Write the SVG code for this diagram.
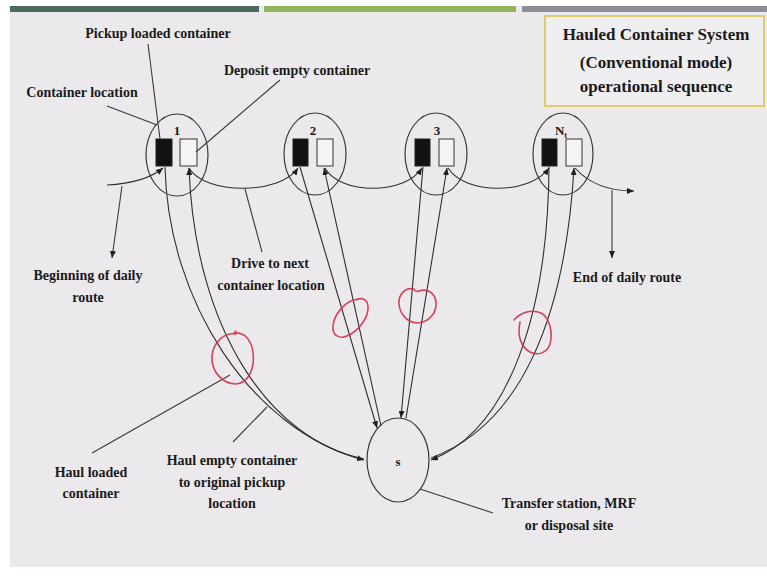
<svg xmlns="http://www.w3.org/2000/svg" width="767" height="577" viewBox="0 0 767 577">
  <style>
    .lbl { font-family: "Liberation Serif", "Times New Roman", serif; font-weight: bold; font-size: 14px; fill: #1a1a1a; text-anchor: middle; }
    .ttl { font-family: "Liberation Serif", "Times New Roman", serif; font-weight: bold; font-size: 17px; fill: #1a1a1a; text-anchor: middle; }
    .num { font-family: "Liberation Serif", "Times New Roman", serif; font-weight: bold; font-size: 13px; fill: #1a1a1a; text-anchor: middle; }
    .ring { fill: none; stroke: #3a3a3a; stroke-width: 1.2; }
    .full { fill: #111; stroke: #222; stroke-width: 1; }
    .empty { fill: #f4f3f5; stroke: #333; stroke-width: 1; }
    .edge { fill: none; stroke: #2e2e2e; stroke-width: 1.1; }
    .lead { fill: none; stroke: #3a3a3a; stroke-width: 1.1; }
    .mark { fill: none; stroke: #d0324a; stroke-width: 1.6; stroke-linecap: round; stroke-linejoin: round; opacity: 0.9; }
  </style>
  <defs>
    <marker id="arr" markerUnits="userSpaceOnUse" markerWidth="7" markerHeight="6" refX="7" refY="3" orient="auto">
      <path d="M0,0 L7,3 L0,6 z" fill="#1e1e1e"/>
    </marker>
  </defs>

  <!-- slide background and header bars -->
  <rect x="0" y="0" width="767" height="577" fill="#ffffff"/>
  <rect x="10" y="6" width="757" height="561" fill="#ebe9ec"/>
  <rect x="10" y="6" width="249" height="6" fill="#4a6b57"/>
  <rect x="264" y="6" width="252" height="6" fill="#8fb55a"/>
  <rect x="522" y="6" width="245" height="6" fill="#8e8e96"/>

  <!-- title box -->
  <g id="title">
    <rect x="545" y="16" width="219" height="90" fill="#efeef0" stroke="#e2cc6a" stroke-width="2"/>
    <text class="ttl" x="656" y="40">Hauled Container System</text>
    <text class="ttl" x="656" y="68">(Conventional mode)</text>
    <text class="ttl" x="656" y="92">operational sequence</text>
  </g>

  <!-- container locations -->
  <g id="loc1">
    <ellipse class="ring" cx="177" cy="155" rx="31" ry="41"/>
    <rect class="full" x="156" y="139" width="16" height="27"/>
    <rect class="empty" x="180" y="139" width="17" height="27"/>
    <text class="num" x="177" y="135">1</text>
  </g>
  <g id="loc2">
    <ellipse class="ring" cx="315" cy="154" rx="31" ry="41"/>
    <rect class="full" x="293" y="139" width="15" height="27"/>
    <rect class="empty" x="317" y="139" width="16" height="27"/>
    <text class="num" x="313" y="135">2</text>
  </g>
  <g id="loc3">
    <ellipse class="ring" cx="436" cy="154" rx="31" ry="41"/>
    <rect class="full" x="415" y="139" width="15" height="27"/>
    <rect class="empty" x="439" y="139" width="15" height="27"/>
    <text class="num" x="437" y="135">3</text>
  </g>
  <g id="locN">
    <ellipse class="ring" cx="563" cy="154" rx="30" ry="41"/>
    <rect class="full" x="542" y="139" width="15" height="27"/>
    <rect class="empty" x="566" y="139" width="16" height="27"/>
    <text class="num" x="561" y="135">N<tspan font-size="8" dy="3">t</tspan></text>
  </g>

  <!-- disposal site -->
  <g id="site">
    <ellipse class="ring" cx="398" cy="460" rx="31" ry="42"/>
    <text class="num" x="398" y="466">s</text>
  </g>

  <!-- route and haul connectors -->
  <g id="connectors">
    <path class="edge" d="M107,185 Q145,183 163,168" marker-end="url(#arr)"/>
    <path class="edge" d="M189,168 C205,195 280,195 298,168" marker-end="url(#arr)"/>
    <path class="edge" d="M325,168 C340,195 405,195 422,168" marker-end="url(#arr)"/>
    <path class="edge" d="M448,168 C465,195 530,195 549,168" marker-end="url(#arr)"/>
    <path class="edge" d="M575,168 C590,185 610,191 634,191" marker-end="url(#arr)"/>

    <path class="edge" d="M165,167 C168,300 250,430 364,460" marker-end="url(#arr)"/>
    <path class="edge" d="M364,459 C270,440 195,330 189,168" marker-end="url(#arr)"/>

    <path class="edge" d="M300,167 L377,428" marker-end="url(#arr)"/>
    <path class="edge" d="M381,426 L324,168" marker-end="url(#arr)"/>

    <path class="edge" d="M423,167 L401,418" marker-end="url(#arr)"/>
    <path class="edge" d="M406,418 L447,168" marker-end="url(#arr)"/>

    <path class="edge" d="M549,167 C548,310 510,430 431,460" marker-end="url(#arr)"/>
    <path class="edge" d="M431,458 C520,425 565,320 574,168" marker-end="url(#arr)"/>
  </g>

  <!-- callouts -->
  <g id="callouts">
    <text class="lbl" x="158" y="38">Pickup loaded container</text>
    <path class="lead" d="M148,44 L160,139"/>
    <text class="lbl" x="82" y="97">Container location</text>
    <path class="lead" d="M107,106 L157,125"/>
    <text class="lbl" x="297" y="75">Deposit empty container</text>
    <path class="lead" d="M280,80 L196,152"/>

    <path class="lead" d="M122,186 L112,258" marker-end="url(#arr)"/>
    <text class="lbl" x="88" y="280">Beginning of daily</text>
    <text class="lbl" x="88" y="302">route</text>

    <path class="lead" d="M245,189 L262,252"/>
    <text class="lbl" x="270" y="268">Drive to next</text>
    <text class="lbl" x="271" y="290">container location</text>

    <path class="lead" d="M612,190 L612,258" marker-end="url(#arr)"/>
    <text class="lbl" x="627" y="282">End of daily route</text>

    <path class="lead" d="M92,453 L230,375"/>
    <text class="lbl" x="91" y="477">Haul loaded</text>
    <text class="lbl" x="91" y="498">container</text>

    <path class="lead" d="M233,442 L267,407"/>
    <text class="lbl" x="232" y="465">Haul empty container</text>
    <text class="lbl" x="232" y="487">to original pickup</text>
    <text class="lbl" x="232" y="508">location</text>

    <path class="lead" d="M420,489 L493,513"/>
    <text class="lbl" x="569" y="508">Transfer station, MRF</text>
    <text class="lbl" x="569" y="530">or disposal site</text>
  </g>

  <!-- hand-drawn red rings on the haul legs -->
  <g id="annotations">
    <path class="mark" d="M236,334 C224,332 213,343 212,356 C211,371 222,384 236,384 C249,383 255,368 253,352 C251,339 244,332 234,333 M234,333 L236,331"/>
    <path class="mark" d="M358,299 C346,300 334,314 333,326 C332,336 340,339 347,336 C359,331 369,317 368,306 C367,299 362,297 356,300"/>
    <path class="mark" d="M414,289 C405,287 398,295 399,304 C400,315 408,323 418,323 C429,322 437,313 436,302 C435,293 427,288 419,291 C417,292 414,291 414,289"/>
    <path class="mark" d="M514,320 C521,312 532,309 541,313 C550,318 553,333 550,344 C547,353 538,356 530,352 C521,347 517,336 520,322"/>
  </g>
</svg>
